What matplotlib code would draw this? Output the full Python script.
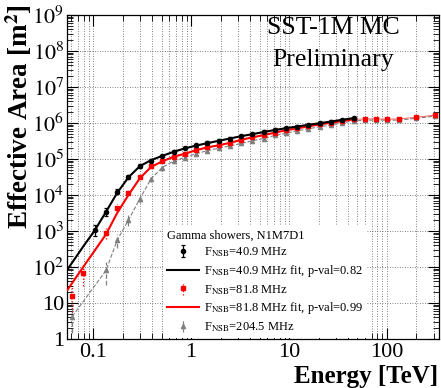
import numpy as np
import matplotlib
matplotlib.use("Agg")
import matplotlib.pyplot as plt
from matplotlib.ticker import FixedLocator, FixedFormatter, LogLocator, NullFormatter

plt.rcParams['font.family'] = ['Liberation Serif', 'DejaVu Serif']
plt.rcParams['mathtext.fontset'] = 'stix'

# energy bins [TeV]
energy = [0.061, 0.079, 0.104, 0.135, 0.176, 0.229, 0.299, 0.389, 0.507, 0.661,
          0.861, 1.12, 1.46, 1.91, 2.48, 3.24, 4.22, 5.50, 7.16, 9.33,
          12.2, 15.8, 20.7, 26.9, 35.1, 45.7, 59.6, 77.6, 101, 132, 200, 310]
nan = np.nan

# effective area [m2], F_NSB = 40.9 MHz
area_409 = [nan, nan, 1.07e3, 3.4e3, 1.24e4, 3.2e4, 6.4e4, 9.0e4, 1.2e5, 1.6e5,
            2.0e5, 2.4e5, 2.8e5, 3.2e5, 3.7e5, 4.3e5, 4.9e5, 5.7e5, 6.4e5, 7.1e5,
            7.9e5, 8.6e5, 9.8e5, 1.07e6, 1.2e6, 1.35e6, nan, nan, nan, nan, nan, nan]
relerr_409 = [0, 0, 0.4, 0.3, 0.2, 0.15, 0.12, 0.1, 0.1, 0.1,
              0.1, 0.1, 0.1, 0.1, 0.1, 0.1, 0.1, 0.1, 0.1, 0.1,
              0.1, 0.1, 0.1, 0.1, 0.1, 0.1, 0, 0, 0, 0, 0, 0]

# F_NSB = 81.8 MHz
area_818 = [16, 69, nan, 890, 4.4e3, 1.16e4, 3.1e4, 6.4e4, 8.8e4, 1.16e5,
            1.38e5, 1.78e5, 2.1e5, 2.4e5, 2.8e5, 3.4e5, 4.0e5, 4.6e5, 5.4e5, 6.4e5,
            7.1e5, 8.2e5, 9.2e5, 1.02e6, 1.15e6, 1.26e6, 1.3e6, 1.3e6, 1.28e6, 1.3e6, 1.44e6, 1.66e6]
relerr_818 = [0.8, 0.7, 0, 0.4, 0.25, 0.2, 0.15, 0.12, 0.1, 0.1,
              0.1, 0.1, 0.1, 0.1, 0.1, 0.1, 0.1, 0.1, 0.1, 0.1,
              0.1, 0.1, 0.1, 0.1, 0.1, 0.1, 0.1, 0.1, 0.1, 0.1, 0.1, 0.1]

# F_NSB = 204.5 MHz
area_2045 = [4.2, nan, nan, 80, 560, 2.0e3, 7.8e3, 2.8e4, 5.8e4, 8.8e4,
             1.1e5, 1.4e5, 1.7e5, 2.0e5, 2.3e5, 2.7e5, 3.2e5, 3.7e5, 4.5e5, 5.2e5,
             6.1e5, 6.9e5, 7.9e5, 8.8e5, 1.02e6, 1.14e6, 1.2e6, 1.2e6, 1.2e6, 1.2e6, 1.35e6, 1.56e6]
relerr_2045 = [0.8, 0, 0, 0.75, 0.5, 0.4, 0.3, 0.2, 0.15, 0.12,
               0.12, 0.12, 0.12, 0.12, 0.12, 0.12, 0.12, 0.12, 0.12, 0.12,
               0.12, 0.12, 0.12, 0.12, 0.12, 0.12, 0.12, 0.12, 0.12, 0.12, 0.12, 0.12]

# fit curves
fit_e_409 = [0.0545, 0.079, 0.104, 0.135, 0.176, 0.229, 0.299, 0.389, 0.507, 0.661,
             0.861, 1.12, 1.46, 1.91, 2.48, 3.24, 4.22, 5.50, 7.16, 9.33,
             12.2, 15.8, 20.7, 26.9, 35.1, 45.7]
fit_a_409 = [85, 370, 1.05e3, 3.4e3, 1.15e4, 3.1e4, 6.3e4, 9.3e4, 1.22e5, 1.58e5,
             1.97e5, 2.35e5, 2.75e5, 3.2e5, 3.7e5, 4.3e5, 4.9e5, 5.6e5, 6.4e5, 7.2e5,
             8.0e5, 8.9e5, 9.9e5, 1.1e6, 1.23e6, 1.37e6]
fit_e_818 = [0.0545, 0.079, 0.104, 0.135, 0.176, 0.229, 0.299, 0.389, 0.507, 0.661,
             0.861, 1.12, 1.46, 1.91, 2.48, 3.24, 4.22, 5.50, 7.16, 9.33,
             12.2, 15.8, 20.7, 26.9, 35.1, 45.7]
fit_a_818 = [23, 100, 290, 805, 3.2e3, 1.0e4, 2.9e4, 6.0e4, 8.6e4, 1.15e5,
             1.4e5, 1.75e5, 2.1e5, 2.4e5, 2.8e5, 3.4e5, 4.0e5, 4.6e5, 5.4e5, 6.3e5,
             7.1e5, 8.1e5, 9.2e5, 1.02e6, 1.14e6, 1.26e6]

x_ticks = [0.1, 1, 10, 100]
x_labels = ['0.1', '1', '10', '100']
y_ticks = [1, 10, 1e2, 1e3, 1e4, 1e5, 1e6, 1e7, 1e8, 1e9]
y_labels = ['1', '10'] + [r'$10^{%d}$' % i for i in range(2, 10)]

fig = plt.figure(figsize=(4.41, 3.88), dpi=100)
ax = fig.add_axes([67 / 441, 49 / 388, 372 / 441, 324 / 388])
ax.set_xscale('log')
ax.set_yscale('log')
ax.set_xlim(0.054, 340)
ax.set_ylim(1, 1e9)

e = np.array(energy)

def draw(area, relerr, color, marker, ms, ls, cap, zo):
    a = np.array(area)
    r = np.array(relerr)
    ok = np.isfinite(a)
    yerr = [a[ok] * r[ok] * 0.8, a[ok] * r[ok]]
    cont = ax.errorbar(e[ok], a[ok], yerr=yerr, fmt=marker, color=color, ms=ms,
                       elinewidth=0.9, capsize=cap, capthick=0.9, zorder=zo)
    for bl in cont[2]:
        bl.set_linestyle(ls)
    return cont, ok

# 204.5 MHz: gray triangles joined by dashed line
h_2045, ok = draw(area_2045, relerr_2045, '0.5', '^', 3, '--', 0, 3)
ax.plot(e[ok], np.array(area_2045)[ok], ls='--', color='0.5', lw=0.8, zorder=2)

h_818, ok = draw(area_818, relerr_818, 'red', 's', 3.5, ':', 0, 4)
ax.plot(e[ok][24:], np.array(area_818)[ok][24:], color='red', lw=0.6, alpha=0.7, zorder=4)
f_818, = ax.plot(fit_e_818, fit_a_818, color='red', lw=1.5, zorder=5)

h_409, _ = draw(area_409, relerr_409, 'black', 'o', 3, '-', 1.5, 6)
f_409, = ax.plot(fit_e_409, fit_a_409, color='black', lw=1.5, zorder=7)

ax.xaxis.set_major_locator(FixedLocator(x_ticks))
ax.xaxis.set_major_formatter(FixedFormatter(x_labels))
ax.xaxis.set_minor_locator(LogLocator(base=10, subs=np.arange(2, 10), numticks=20))
ax.xaxis.set_minor_formatter(NullFormatter())
ax.yaxis.set_major_locator(FixedLocator(y_ticks))
ax.yaxis.set_major_formatter(FixedFormatter(y_labels))
ax.yaxis.set_minor_locator(LogLocator(base=10, subs=np.arange(2, 10), numticks=20))
ax.yaxis.set_minor_formatter(NullFormatter())

ax.tick_params(which='both', direction='in', top=True, right=True, labelsize=16)
ax.tick_params(which='major', length=8, width=0.8)
ax.tick_params(which='minor', length=4, width=0.6)
ax.tick_params(axis='x', pad=3)
ax.tick_params(axis='y', pad=2)

grid_kw = dict(color='0.35', linestyle=(0, (1, 2)), linewidth=0.6)
ax.grid(True, axis='x', which='both', **grid_kw)
ax.grid(True, axis='y', which='major', **grid_kw)
ax.set_axisbelow(True)
for s in ax.spines.values():
    s.set_linewidth(0.9)

fig.text(19 / 441, (388 - 4) / 388, r'Effective Area [m$^{\mathbf{2}}$]', rotation=90,
         ha='center', va='top', fontsize=19.5, fontweight='bold')
fig.text(438 / 441, (388 - 376) / 388, 'Energy [TeV]', ha='right', va='center',
         fontsize=18, fontweight='bold')
fig.text(333 / 441, (388 - 28) / 388, 'SST-1M MC', ha='center', va='center', fontsize=18.5)
fig.text(333 / 441, (388 - 60) / 388, 'Preliminary', ha='center', va='center', fontsize=18.5)

handles = [h_409, f_409, h_818, f_818, h_2045]
labels = [r'F$_{\mathrm{NSB}}$=40.9 MHz',
          r'F$_{\mathrm{NSB}}$=40.9 MHz fit, p-val=0.82',
          r'F$_{\mathrm{NSB}}$=81.8 MHz',
          r'F$_{\mathrm{NSB}}$=81.8 MHz fit, p-val=0.99',
          r'F$_{\mathrm{NSB}}$=204.5 MHz']
leg = ax.legend(handles, labels, loc='upper left', bbox_to_anchor=((163 - 67) / 372, (339 - 226) / 324),
                title='Gamma showers, N1M7D1', fontsize=9, title_fontsize=9, alignment='left',
                frameon=True, facecolor='white', edgecolor='none', fancybox=False, framealpha=1,
                handlelength=2.6, handletextpad=0.4, labelspacing=0.3, borderpad=0.3,
                borderaxespad=0)
leg.set_zorder(10)

fig.savefig('out.png', dpi=100)
